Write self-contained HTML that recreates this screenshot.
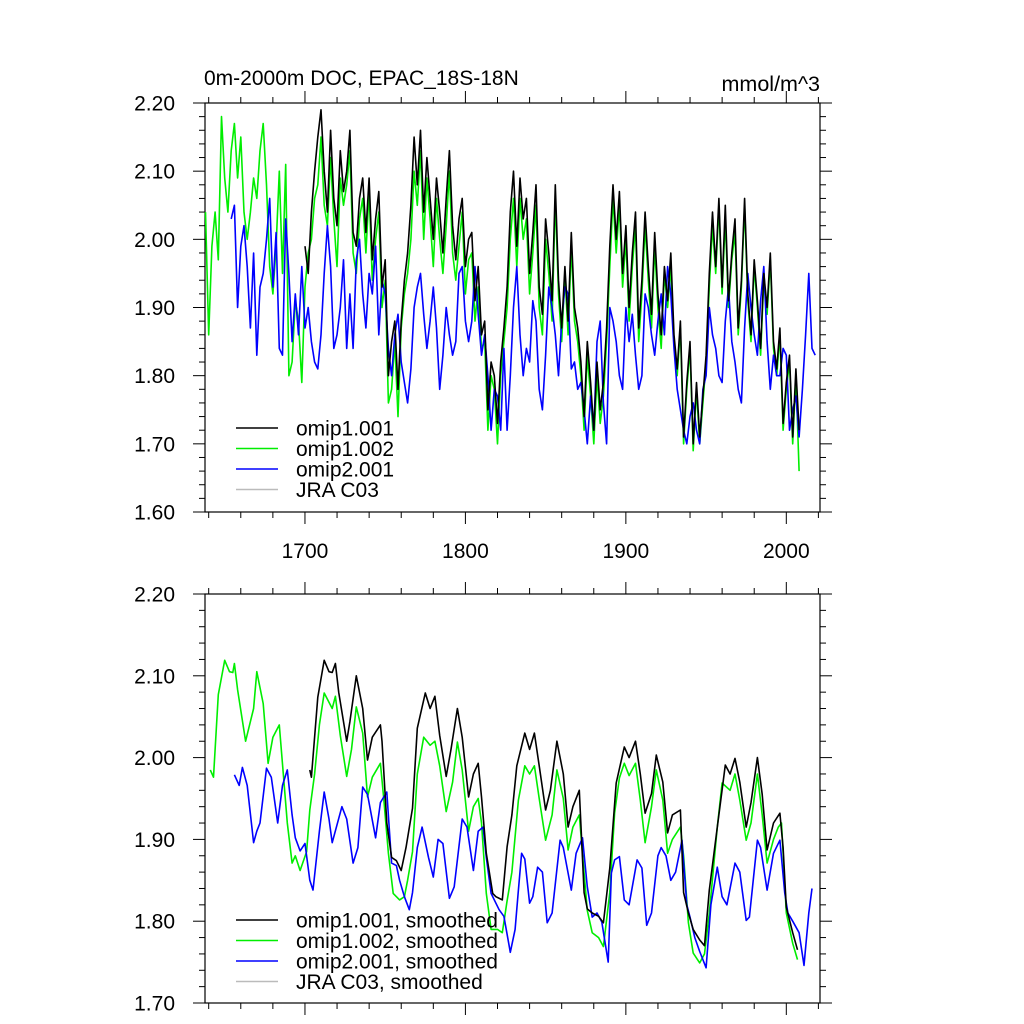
<!DOCTYPE html>
<html><head><meta charset="utf-8"><title>DOC chart</title>
<style>
html,body{margin:0;padding:0;background:#fff;}
svg{display:block;font-family:"Liberation Sans",Arial,sans-serif;}
</style></head>
<body>
<svg id="chart" width="1024" height="1024" viewBox="0 0 1024 1024">
<text x="204" y="85" font-size="21">0m-2000m DOC, EPAC_18S-18N</text>
<text x="820" y="91" font-size="21.5" text-anchor="end">mmol/m^3</text>
<g id="top"></g>
<g id="bot"></g>
</svg>
<script>
// ---- raw data (top panel), 2-year steps ----
const greenStart = 1638;
const greenRaw = [2.04,1.86,1.99,2.04,1.97,2.18,2.09,2.04,2.13,2.17,2.09,2.15,2.04,2.00,2.04,2.09,2.06,2.13,2.17,2.08,1.96,1.92,1.99,2.10,1.95,2.11,1.80,1.82,1.91,1.88,1.79,
1.93,1.98,2.00,2.06,2.08,2.15,2.05,2.02,2.12,2.03,1.96,2.09,2.05,2.08,2.13,1.98,1.95,2.03,2.06,1.98,2.07,1.94,2.00,2.04,1.90,1.94,1.76,1.78,1.85,1.74,1.87,
1.92,1.95,2.00,2.10,2.05,2.13,2.00,2.09,2.03,1.96,2.06,2.00,1.95,2.02,2.10,1.98,1.94,1.99,2.04,1.92,1.97,1.98,1.88,1.93,1.84,1.85,1.72,1.80,1.78,1.70,1.80,
1.85,1.90,2.00,2.06,1.96,2.06,2.00,2.03,1.92,1.98,2.05,1.90,1.86,2.00,1.95,1.88,2.06,1.92,1.85,1.95,1.86,1.99,1.88,1.85,1.80,1.72,1.83,1.77,1.70,1.80,1.73,
1.77,1.85,1.96,2.06,1.98,2.05,1.93,2.00,1.88,1.96,2.02,1.85,1.92,2.02,1.94,1.87,1.99,1.90,1.84,1.95,1.90,1.96,1.85,1.80,1.87,1.70,1.78,1.84,1.69,1.78,1.70,
1.76,1.82,1.93,2.02,1.95,2.05,1.92,2.03,1.90,1.97,2.01,1.86,1.93,2.05,1.91,1.85,1.96,1.90,1.83,1.94,1.89,1.97,1.84,1.80,1.86,1.72,1.78,1.82,1.70,1.80,1.66];
const blackStart = 1700;
const blackRaw = [1.99,1.95,2.04,2.10,2.15,2.19,2.10,2.04,2.16,2.06,2.02,2.13,2.07,2.10,2.16,2.01,1.99,2.06,2.09,2.01,2.09,1.97,2.03,2.07,1.93,1.97,1.80,1.85,1.88,1.78,1.88,
1.94,1.98,2.05,2.15,2.08,2.16,2.04,2.12,2.06,2.00,2.09,2.04,1.98,2.06,2.13,2.02,1.97,2.03,2.06,1.96,2.00,2.01,1.91,1.96,1.86,1.88,1.75,1.82,1.80,1.73,1.82,
1.87,1.93,2.04,2.10,1.99,2.09,2.03,2.06,1.95,2.01,2.08,1.93,1.89,2.03,1.98,1.91,2.08,1.94,1.87,1.96,1.88,2.01,1.90,1.87,1.82,1.74,1.85,1.79,1.72,1.82,1.75,
1.79,1.87,1.99,2.08,2.00,2.07,1.95,2.02,1.90,1.98,2.04,1.87,1.94,2.04,1.96,1.89,2.01,1.92,1.86,1.96,1.91,1.98,1.86,1.81,1.88,1.71,1.79,1.85,1.70,1.79,1.71,
1.77,1.83,1.95,2.04,1.96,2.06,1.93,2.05,1.91,1.98,2.03,1.87,1.94,2.06,1.92,1.86,1.97,1.91,1.84,1.95,1.90,1.98,1.85,1.81,1.87,1.73,1.79,1.83,1.71,1.81,1.72];
const blueStart = 1654;
const blueRaw = [2.03,2.05,1.90,1.99,2.02,1.96,1.87,1.98,1.83,1.93,1.95,2.00,2.06,1.93,2.01,1.84,1.83,2.03,1.95,1.85,1.92,1.86,1.96,
1.87,1.90,1.85,1.82,1.81,1.86,1.95,2.02,1.96,1.84,1.86,1.90,1.97,1.84,1.92,1.84,1.97,2.00,1.92,1.87,1.95,1.92,1.99,1.86,1.94,1.92,1.84,1.80,1.86,1.89,1.82,
1.79,1.76,1.81,1.90,1.93,1.95,1.89,1.84,1.88,1.93,1.87,1.78,1.83,1.90,1.86,1.83,1.85,1.95,1.96,1.88,1.85,1.88,1.96,1.89,1.83,1.86,1.80,1.72,1.78,1.77,1.72,
1.84,1.72,1.80,1.90,1.96,1.86,1.80,1.84,1.82,1.91,1.88,1.78,1.75,1.83,1.93,1.90,1.86,1.80,1.88,1.93,1.92,1.81,1.82,1.78,1.79,1.75,1.70,1.77,1.72,1.85,1.88,
1.76,1.70,1.90,1.88,1.85,1.80,1.78,1.90,1.85,1.89,1.83,1.78,1.80,1.92,1.90,1.86,1.83,1.88,1.92,1.86,1.96,1.92,1.84,1.78,1.75,1.72,1.70,1.74,1.76,1.72,1.70,
1.78,1.80,1.90,1.86,1.84,1.80,1.79,1.88,1.93,1.85,1.82,1.78,1.76,1.87,1.95,1.90,1.86,1.83,1.91,1.96,1.85,1.78,1.83,1.80,1.80,1.84,1.83,1.72,1.75,1.77,1.71,1.78,1.86,1.95,1.84,1.83];
const yearStep = 2;

// ---- smoothed data (bottom panel) ----
const greenSmYears = [1641,1643,1646,1650,1653,1655,1656,1658,1663,1666,1668,1670,1674,1677,1680,1684,1689,1692,1694,1697,1701,1703,1706,1709,1712,1717,1719,1722,1726,1729,1732,1736,1739,1742,1747,1749,1752,1755,1759,1762,1764,1767,1770,1774,1778,1781,1784,1788,1792,1795,1798,1802,1805,1808,1810,1813,1816,1820,1823,1826,1829,1833,1837,1840,1843,1846,1850,1854,1857,1861,1864,1867,1871,1874,1876,1879,1883,1886,1890,1893,1896,1899,1902,1906,1909,1912,1916,1919,1923,1926,1929,1934,1936,1939,1942,1946,1949,1952,1957,1960,1965,1968,1971,1975,1978,1982,1985,1988,1992,1995,1997,2000,2004,2007];
const greenSm = [1.985,1.976,2.077,2.119,2.105,2.104,2.115,2.083,2.020,2.044,2.060,2.105,2.066,1.993,2.025,2.040,1.920,1.871,1.880,1.862,1.885,1.936,1.980,2.040,2.079,2.060,2.075,2.027,1.977,2.010,2.062,2.030,1.952,1.976,1.993,1.952,1.883,1.834,1.826,1.830,1.850,1.885,1.980,2.025,2.015,2.020,1.990,1.934,1.970,2.019,1.985,1.910,1.940,1.950,1.920,1.834,1.790,1.790,1.786,1.825,1.860,1.948,1.990,1.980,1.990,1.950,1.899,1.930,1.985,1.950,1.887,1.915,1.930,1.859,1.813,1.786,1.780,1.769,1.835,1.932,1.975,1.993,1.978,1.993,1.948,1.896,1.940,1.985,1.948,1.883,1.900,1.915,1.880,1.798,1.761,1.749,1.760,1.810,1.915,1.969,1.960,1.980,1.948,1.899,1.920,1.980,1.930,1.871,1.900,1.915,1.920,1.810,1.773,1.753];
const blackSmYears = [1703,1704,1708,1712,1715,1717,1719,1721,1726,1728,1732,1736,1739,1742,1747,1748,1751,1754,1757,1760,1763,1767,1770,1775,1778,1781,1784,1788,1791,1795,1798,1802,1805,1808,1810,1813,1817,1819,1823,1826,1829,1832,1837,1840,1843,1846,1850,1853,1857,1861,1864,1867,1871,1874,1876,1879,1883,1886,1890,1894,1899,1902,1906,1909,1912,1916,1919,1923,1926,1929,1934,1936,1939,1942,1946,1949,1952,1957,1962,1965,1968,1971,1975,1978,1982,1985,1988,1992,1996,1998,2000,2004,2007];
const blackSm = [1.985,1.976,2.074,2.119,2.105,2.104,2.115,2.080,2.020,2.044,2.100,2.060,1.997,2.025,2.040,2.020,1.920,1.878,1.874,1.862,1.890,1.938,2.036,2.079,2.060,2.075,2.027,1.977,2.010,2.060,2.025,1.952,1.980,1.993,1.952,1.883,1.834,1.830,1.826,1.891,1.930,1.990,2.030,2.010,2.030,1.990,1.936,1.960,2.020,1.980,1.915,1.940,1.960,1.835,1.815,1.810,1.806,1.798,1.865,1.969,2.013,2.000,2.020,1.980,1.932,1.956,2.003,1.970,1.908,1.930,1.936,1.835,1.810,1.790,1.777,1.770,1.838,1.915,1.991,1.980,1.999,1.970,1.915,1.945,2.000,1.955,1.887,1.920,1.932,1.890,1.817,1.786,1.765];
const blueSmYears = [1656,1659,1661,1664,1668,1670,1672,1676,1679,1683,1686,1689,1692,1694,1697,1700,1703,1705,1709,1712,1715,1717,1723,1726,1730,1733,1736,1739,1744,1747,1751,1754,1757,1759,1762,1765,1767,1770,1773,1777,1780,1783,1786,1790,1793,1798,1801,1805,1808,1811,1813,1816,1821,1824,1828,1831,1833,1835,1837,1840,1842,1845,1848,1851,1854,1859,1861,1866,1869,1873,1876,1879,1882,1885,1889,1891,1893,1896,1899,1902,1907,1910,1913,1916,1920,1922,1925,1928,1931,1935,1938,1940,1943,1946,1950,1953,1957,1960,1963,1968,1971,1975,1977,1982,1984,1988,1992,1996,1999,2001,2004,2008,2011,2014,2016];
const blueSm = [1.979,1.966,1.988,1.966,1.896,1.910,1.920,1.987,1.976,1.920,1.966,1.985,1.930,1.902,1.886,1.895,1.850,1.838,1.910,1.958,1.925,1.896,1.940,1.925,1.871,1.890,1.964,1.955,1.902,1.945,1.958,1.871,1.868,1.850,1.830,1.814,1.835,1.890,1.915,1.878,1.854,1.900,1.895,1.828,1.842,1.925,1.915,1.862,1.910,1.915,1.878,1.834,1.814,1.806,1.762,1.790,1.838,1.883,1.876,1.822,1.830,1.866,1.860,1.798,1.810,1.899,1.890,1.838,1.883,1.902,1.842,1.805,1.810,1.799,1.750,1.859,1.875,1.879,1.826,1.820,1.875,1.865,1.795,1.810,1.880,1.890,1.880,1.850,1.860,1.899,1.820,1.805,1.780,1.763,1.743,1.820,1.866,1.830,1.820,1.871,1.860,1.801,1.805,1.899,1.890,1.838,1.883,1.899,1.835,1.810,1.800,1.786,1.746,1.810,1.840];

const topYTicks = ["1.60","1.70","1.80","1.90","2.00","2.10","2.20"];
const botYTicks = ["1.70","1.80","1.90","2.00","2.10","2.20"];
const xTicks = [1700,1800,1900,2000];
const topLegend = ["omip1.001","omip1.002","omip2.001","JRA C03"];
const botLegend = ["omip1.001, smoothed","omip1.002, smoothed","omip2.001, smoothed","JRA C03, smoothed"];

const NS = "http://www.w3.org/2000/svg";
const X0 = 205, X1 = 820, YR0 = 1637.7, YR1 = 2021;
function xs(yr){ return X0 + (yr - YR0) / (YR1 - YR0) * (X1 - X0); }
function mk(tag, attrs, parent){ const e = document.createElementNS(NS, tag); for (const k in attrs) e.setAttribute(k, attrs[k]); parent.appendChild(e); return e; }

function drawPanel(g, top, bot, vmin, vmax, yTicks, showXLabels){
  const ys = v => bot - (v - vmin) / (vmax - vmin) * (bot - top);
  const fr = mk('rect', {x:X0, y:top, width:X1-X0, height:bot-top, fill:'none', stroke:'#000', 'stroke-width':1.2}, g);
  
  
  const nMinor = (vmax - vmin) / 0.02;
  for (let i = 0; i <= Math.round(nMinor); i++){
    const v = vmin + i * 0.02, y = ys(v), major = (i % 5 === 0), L = major ? 12 : 6;
    const t1 = mk('line', {x1:X0-L, x2:X0, y1:y, y2:y, stroke:'#000', 'stroke-width':1}, g);
    
    
    const t2 = mk('line', {x1:X1, x2:X1+L, y1:y, y2:y, stroke:'#000', 'stroke-width':1}, g);
    
    
  }
  yTicks.forEach(s => {
    const t = mk('text', {x:175, y:ys(parseFloat(s))+7.5, 'font-size':21, 'text-anchor':'end'}, g);
    t.textContent = s;
    
    
  });
  for (let yr = 1640; yr <= 2020; yr += 20){
    const x = xs(yr), major = (yr % 100 === 0), L = major ? 12 : 6;
    const a = mk('line', {x1:x, x2:x, y1:bot, y2:bot+L, stroke:'#000', 'stroke-width':1}, g);
    
    
    const b = mk('line', {x1:x, x2:x, y1:top-L, y2:top, stroke:'#000', 'stroke-width':1}, g);
    
    
  }
  if (showXLabels){
    xTicks.forEach(yr => {
      const t = mk('text', {x:xs(yr), y:bot+46, 'font-size':21, 'text-anchor':'middle'}, g);
      t.textContent = yr;
      
      
    });
  }
  return ys;
}
function line(g, yrs, vals, ys, color, name){
  const d = vals.map((v,i) => (i ? 'L' : 'M') + xs(yrs[i]).toFixed(1) + ',' + ys(v).toFixed(1)).join('');
  const p = mk('path', {d:d, fill:'none', stroke:color, 'stroke-width':1.6, 'stroke-linejoin':'round'}, g);
  
  
}
function yearsFor(start, arr){ return arr.map((_, i) => start + i * yearStep); }
function legend(g, labels, y0){
  const cols = ['#000', '#00ee00', '#0000ff', '#bbbbbb'];
  labels.forEach((s, i) => {
    const y = y0 + i * 20.5;
    const l = mk('line', {x1:236, x2:278, y1:y, y2:y, stroke:cols[i], 'stroke-width':1.6}, g);
    
    
    const t = mk('text', {x:296, y:y+7.5, 'font-size':21}, g);
    t.textContent = s;
    
    
  });
}
const gTop = document.getElementById('top');
const ysT = drawPanel(gTop, 103, 512, 1.60, 2.20, topYTicks, true);
line(gTop, yearsFor(greenStart, greenRaw), greenRaw, ysT, '#00ee00', 'omip1-002-line');
line(gTop, yearsFor(blueStart, blueRaw), blueRaw, ysT, '#0000ff', 'omip2-001-line');
line(gTop, yearsFor(blackStart, blackRaw), blackRaw, ysT, '#000', 'omip1-001-line');
legend(gTop, topLegend, 428);

const gBot = document.getElementById('bot');
const ysB = drawPanel(gBot, 594, 1003, 1.70, 2.20, botYTicks, false);
line(gBot, greenSmYears, greenSm, ysB, '#00ee00', 'omip1-002-smoothed-line');
line(gBot, blueSmYears, blueSm, ysB, '#0000ff', 'omip2-001-smoothed-line');
line(gBot, blackSmYears, blackSm, ysB, '#000', 'omip1-001-smoothed-line');
legend(gBot, botLegend, 920);
</script>
</body></html>
